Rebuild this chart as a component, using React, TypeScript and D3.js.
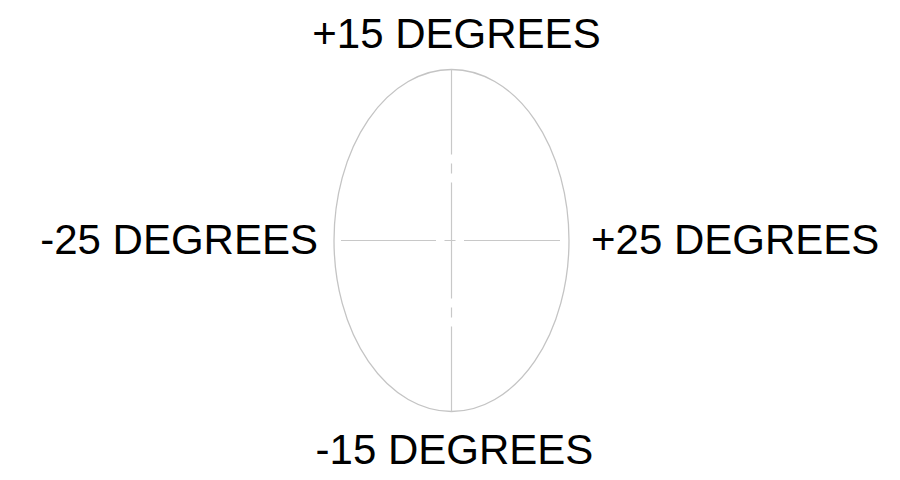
import React from "react";
import * as d3 from "d3";

// Labels around the ellipse: horizontal range (degrees) and vertical range (degrees)
const horizontalLimits = [-25, 25];
const verticalLimits = [-15, 15];
const labels = [
  { text: "+15 DEGREES", axis: "v", value: 15 },
  { text: "-15 DEGREES", axis: "v", value: -15 },
  { text: "-25 DEGREES", axis: "h", value: -25 },
  { text: "+25 DEGREES", axis: "h", value: 25 },
];

const width = 900;
const height = 480;

export default function App() {
  // x / y scales in degrees
  const x = d3.scaleLinear().domain(horizontalLimits).range([334, 569]);
  const y = d3.scaleLinear().domain(verticalLimits).range([411.5, 69.5]);

  const cx = x(0);
  const cy = y(0);
  const rx = x(25) - cx;
  const ry = cy - y(15);

  const fontSize = 42;
  const font = "Liberation Sans, Arial, Helvetica, sans-serif";

  return (
    <svg
      width={width}
      height={height}
      viewBox={`0 0 ${width} ${height}`}
      style={{ position: "absolute", left: 0, top: 0, background: "#fff" }}
    >
      <ellipse
        cx={cx}
        cy={cy}
        rx={rx}
        ry={ry}
        fill="none"
        stroke="#c4c4c4"
        strokeWidth={1.3}
      />
      {/* centre lines */}
      <line
        x1={cx}
        x2={cx}
        y1={y(15)}
        y2={y(-15)}
        stroke="#c8c8c8"
        strokeWidth={1.2}
        strokeDasharray="85 9 10 9 116 9 10 9 85"
      />
      <line
        x1={x(-25) + 7}
        x2={x(25) - 9}
        y1={cy}
        y2={cy}
        stroke="#c8c8c8"
        strokeWidth={1.2}
        strokeDasharray="95 8.5 11 8.5 96"
      />
      {labels.map(d => {
        if (d.axis === "v") {
          const top = d.value > 0;
          return (
            <text
              key={d.text}
              x={top ? cx + 5 : cx + 3}
              y={top ? y(d.value) - 22 : y(d.value) + 52}
              textAnchor="middle"
              fontFamily={font}
              fontSize={fontSize}
              fill="#000"
            >
              {d.text}
            </text>
          );
        }
        const left = d.value < 0;
        return (
          <text
            key={d.text}
            x={left ? x(d.value) - 16 : x(d.value) + 22}
            y={cy + 13}
            textAnchor={left ? "end" : "start"}
            fontFamily={font}
            fontSize={fontSize}
            fill="#000"
          >
            {d.text}
          </text>
        );
      })}
    </svg>
  );
}
